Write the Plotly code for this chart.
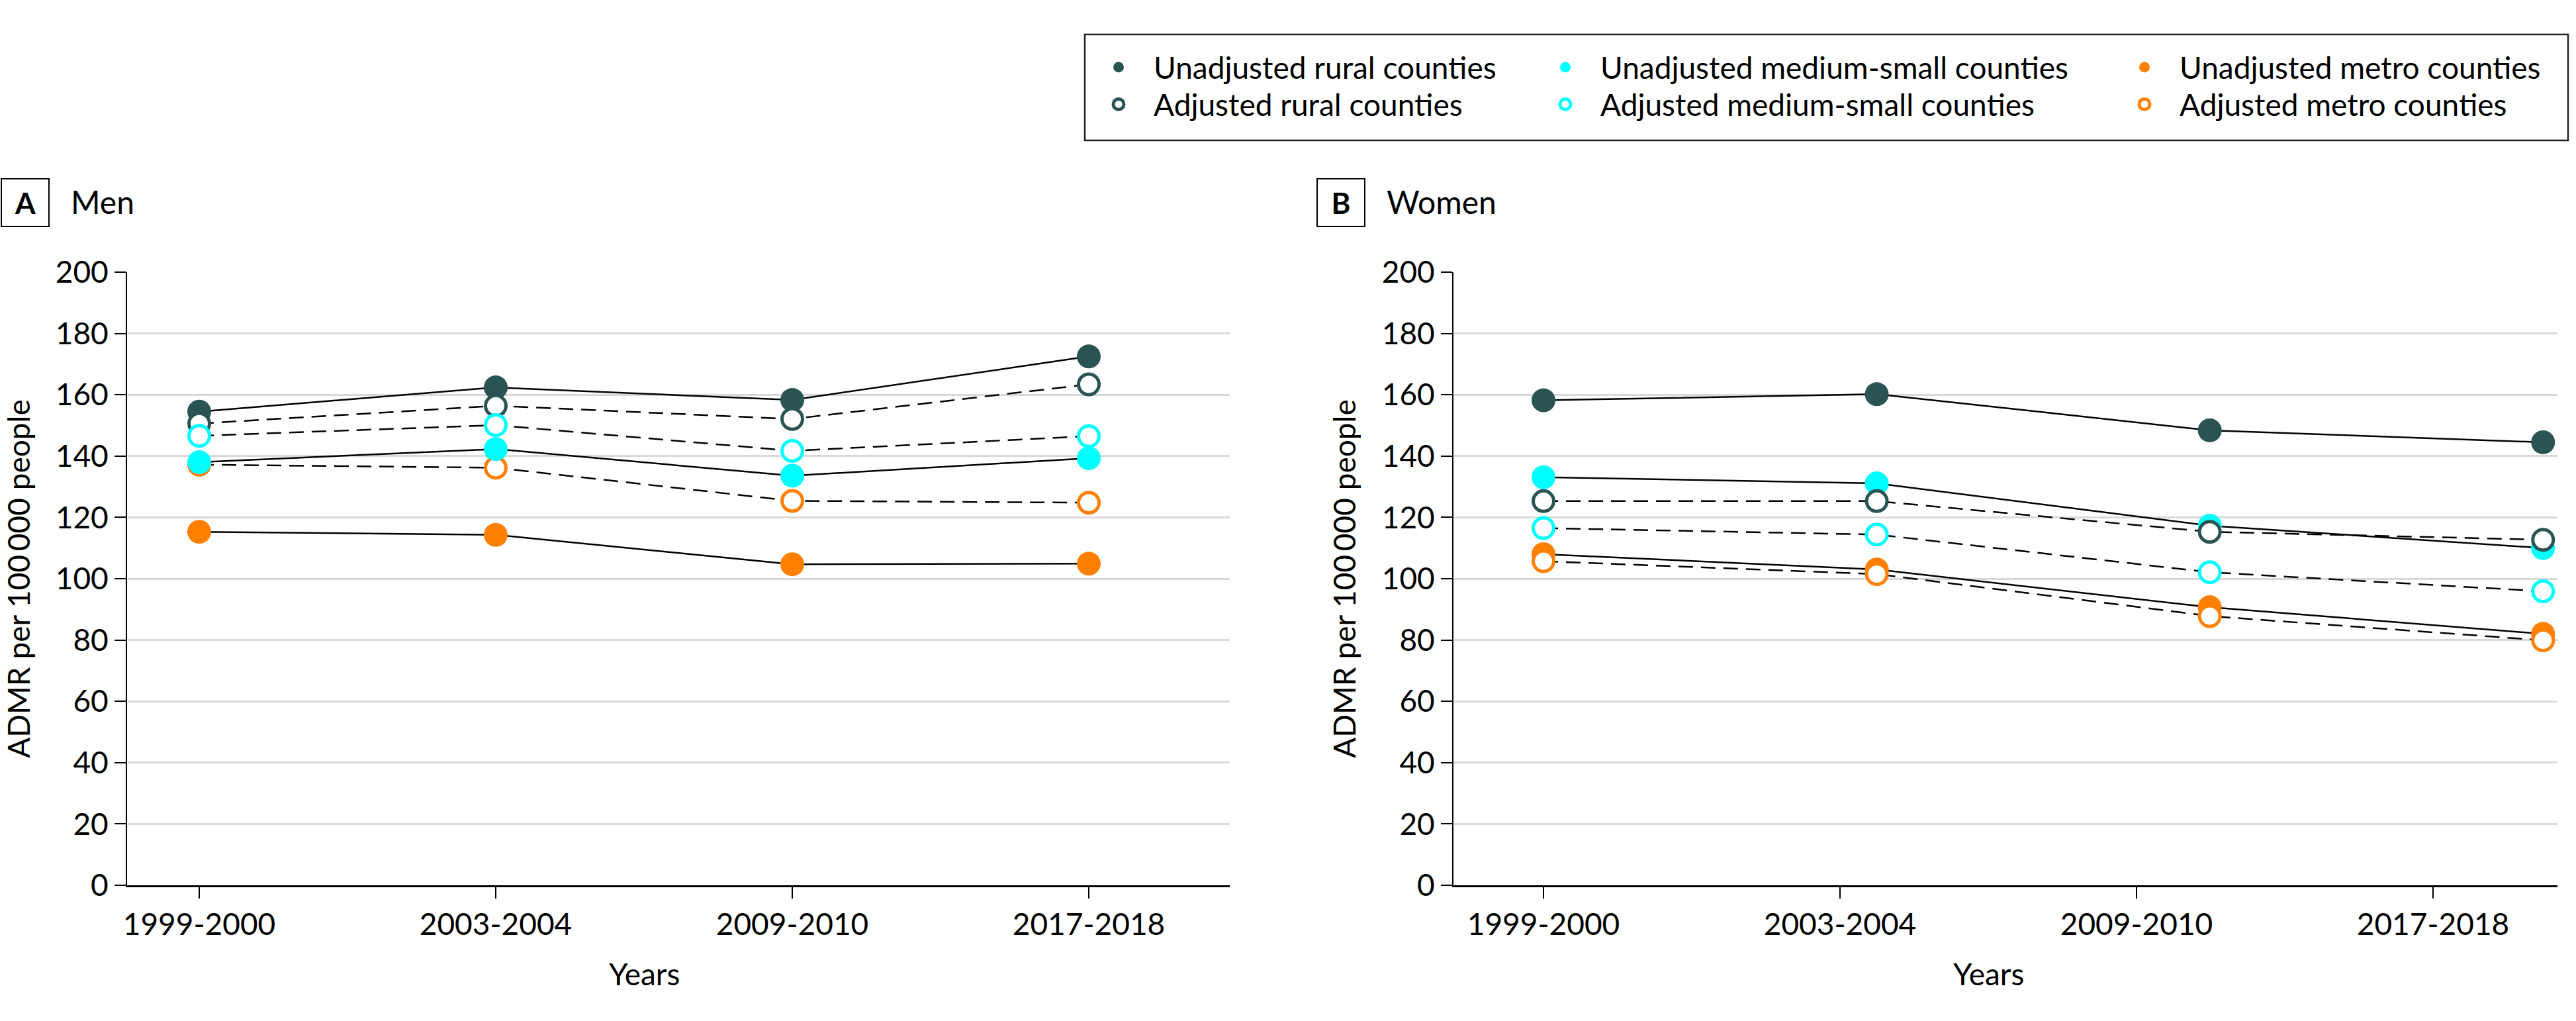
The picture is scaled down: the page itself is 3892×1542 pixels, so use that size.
import plotly.graph_objects as go

# ---------------- data ----------------
years = ["1999-2000", "2003-2004", "2009-2010", "2017-2018"]
tick_index = [0, 1, 2, 3]
# In the women panel the points sit on a slightly stretched scale relative to the tick labels
women_x_pos = [0, 1.124, 2.247, 3.371]

# Men (panel A)
rural_unadj_m = [154.5, 162.4, 158.3, 172.5]
rural_adj_m = [150.6, 156.4, 152.1, 163.4]
medium_unadj_m = [138.0, 142.3, 133.6, 139.3]
medium_adj_m = [146.6, 150.1, 141.7, 146.5]
metro_unadj_m = [115.3, 114.3, 104.7, 104.9]
metro_adj_m = [137.2, 136.2, 125.4, 124.8]

# Women (panel B)
rural_unadj_w = [158.2, 160.2, 148.4, 144.5]
rural_adj_w = [125.3, 125.3, 115.3, 112.7]
medium_unadj_w = [133.1, 131.1, 117.3, 110.0]
medium_adj_w = [116.5, 114.4, 102.1, 95.9]
metro_unadj_w = [108.0, 103.0, 90.7, 82.0]
metro_adj_w = [105.7, 101.5, 87.8, 79.9]

y_ticks = [0, 20, 40, 60, 80, 100, 120, 140, 160, 180, 200]

names = {
    "rural_unadj": "Unadjusted rural counties",
    "rural_adj": "Adjusted rural counties",
    "medium_unadj": "Unadjusted medium-small counties",
    "medium_adj": "Adjusted medium-small counties",
    "metro_unadj": "Unadjusted metro counties",
    "metro_adj": "Adjusted metro counties",
}

men = {
    "rural_unadj": rural_unadj_m, "rural_adj": rural_adj_m,
    "medium_unadj": medium_unadj_m, "medium_adj": medium_adj_m,
    "metro_unadj": metro_unadj_m, "metro_adj": metro_adj_m,
}
women = {
    "rural_unadj": rural_unadj_w, "rural_adj": rural_adj_w,
    "medium_unadj": medium_unadj_w, "medium_adj": medium_adj_w,
    "metro_unadj": metro_unadj_w, "metro_adj": metro_adj_w,
}

# ---------------- styles ----------------
TEAL = "#2a5454"
CYAN = "#00ffff"
ORANGE = "#ff8000"
FONT = "Lato, 'Noto Sans', sans-serif"
FS = 46

colors = {
    "rural_unadj": TEAL, "rural_adj": TEAL,
    "medium_unadj": CYAN, "medium_adj": CYAN,
    "metro_unadj": ORANGE, "metro_adj": ORANGE,
}
legend_of = {
    "rural_unadj": "legend", "rural_adj": "legend2",
    "medium_unadj": "legend3", "medium_adj": "legend4",
    "metro_unadj": "legend5", "metro_adj": "legend6",
}
line_order = ["rural_unadj", "rural_adj", "medium_unadj", "medium_adj", "metro_unadj", "metro_adj"]
draw_order = ["metro_unadj", "metro_adj", "rural_unadj", "medium_unadj", "rural_adj", "medium_adj"]

W, H = 3892, 1542


def px_x(p):
    return p / W


def px_y(p):
    return 1 - p / H


fig = go.Figure()

panels = [
    (men, tick_index, "x", "y", True),
    (women, women_x_pos, "x2", "y2", False),
]

for data, xs, xa, ya, show_leg in panels:
    # connecting lines first (below all markers)
    for key in line_order:
        adj = key.endswith("_adj")
        fig.add_trace(go.Scatter(
            x=xs, y=data[key], mode="lines", xaxis=xa, yaxis=ya,
            line=dict(color="black", width=2.5, dash="22px,12px" if adj else "solid"),
            showlegend=False, hoverinfo="skip",
        ))
    for key in draw_order:
        adj = key.endswith("_adj")
        c = colors[key]
        if adj:
            marker = dict(symbol="circle", size=31, color="white", line=dict(color=c, width=5))
        else:
            marker = dict(symbol="circle", size=36, color=c, line=dict(color=c, width=0))
        fig.add_trace(go.Scatter(
            x=xs, y=data[key], mode="markers", xaxis=xa, yaxis=ya,
            marker=marker, name=names[key], showlegend=show_leg,
            legend=legend_of[key],
        ))

# ---------------- axes ----------------
dom_a = [px_x(192), px_x(1858)]
dom_b = [px_x(2196), px_x(3864)]
dom_y = [px_y(1337), px_y(411)]

tickfont = dict(family=FONT, size=FS, color="black")
common_x = dict(
    type="linear", tickvals=tick_index, ticktext=years,
    showgrid=False, zeroline=False, showline=True, linecolor="black", linewidth=2.5,
    ticks="outside", ticklen=17, tickwidth=2, tickcolor="black", tickfont=tickfont,
    fixedrange=True,
)
common_y = dict(
    range=[0, 200], tickvals=y_ticks, domain=dom_y,
    showgrid=True, gridcolor="#d9d9d9", gridwidth=3, zeroline=False,
    showline=True, linecolor="black", linewidth=2,
    ticks="outside", ticklen=17, tickwidth=2, tickcolor="black", tickfont=tickfont,
    fixedrange=True,
)

fig.update_layout(
    xaxis=dict(common_x, domain=dom_a, range=[-0.2433, 3.4754], anchor="y"),
    xaxis2=dict(common_x, domain=dom_b, range=[-0.3036, 3.4196], anchor="y2"),
    yaxis=dict(common_y, anchor="x"),
    yaxis2=dict(common_y, anchor="x2"),
)

# ---------------- legends (6 single-item legends laid out as a 3x2 grid) ----------------
leg_font = dict(family=FONT, size=FS, color="black")
col_centers = [1690, 2365, 3240]
row_centers = [102, 158]
center_off = 53  # symbol centre from legend's left edge (itemwidth 96)
leg_keys = [["legend", "legend3", "legend5"], ["legend2", "legend4", "legend6"]]
for r, row in enumerate(leg_keys):
    for c, lk in enumerate(row):
        fig.update_layout({lk: dict(
            x=px_x(col_centers[c] - center_off), xanchor="left",
            y=px_y(row_centers[r] - 37), yanchor="top",
            orientation="v", itemwidth=96, font=leg_font,
            bgcolor="rgba(0,0,0,0)", borderwidth=0, itemclick=False, itemdoubleclick=False,
        )})

shapes = [
    dict(type="rect", xref="paper", yref="paper",
         x0=px_x(1639), x1=px_x(3880), y0=px_y(212), y1=px_y(52),
         line=dict(color="#222222", width=2.5), fillcolor="rgba(0,0,0,0)"),
]

annotations = []
for letter, bx, title, tx in [("A", 1, "Men", 105), ("B", 1989, "Women", 2093)]:
    annotations.append(dict(
        text="<b>%s</b>" % letter, xref="paper", yref="paper",
        x=px_x(bx), y=px_y(269), xanchor="left", yanchor="top",
        showarrow=False, width=70, height=70, borderwidth=2, bordercolor="black",
        borderpad=0, align="center", valign="middle",
        font=dict(family=FONT, size=44, color="black"),
    ))
    annotations.append(dict(
        text=title, xref="paper", yref="paper", x=px_x(tx), y=px_y(305),
        xanchor="left", yanchor="middle", showarrow=False,
        font=dict(family=FONT, size=48, color="black"),
    ))

for yref, cx in [("y", 28), ("y2", 2031)]:
    annotations.append(dict(
        text="ADMR per 100\u2009000 people", xref="paper", yref=yref,
        x=px_x(cx), y=100, xanchor="center", yanchor="middle", textangle=-90,
        showarrow=False, font=dict(family=FONT, size=FS, color="black"),
    ))

for cx in [973, 3004]:
    annotations.append(dict(
        text="Years", xref="paper", yref="paper", x=px_x(cx), y=px_y(1470),
        xanchor="center", yanchor="middle", showarrow=False,
        font=dict(family=FONT, size=FS, color="black"),
    ))

fig.update_layout(
    width=W, height=H, autosize=False,
    margin=dict(l=0, r=0, t=0, b=0, pad=0, autoexpand=False),
    paper_bgcolor="white", plot_bgcolor="white",
    font=dict(family=FONT, size=FS, color="black"),
    shapes=shapes, annotations=annotations,
    hovermode=False,
)

fig.write_html(
    "out.html",
    config={"displayModeBar": False, "staticPlot": True},
    post_script="document.body.style.margin='0';document.body.style.overflow='hidden';",
)
